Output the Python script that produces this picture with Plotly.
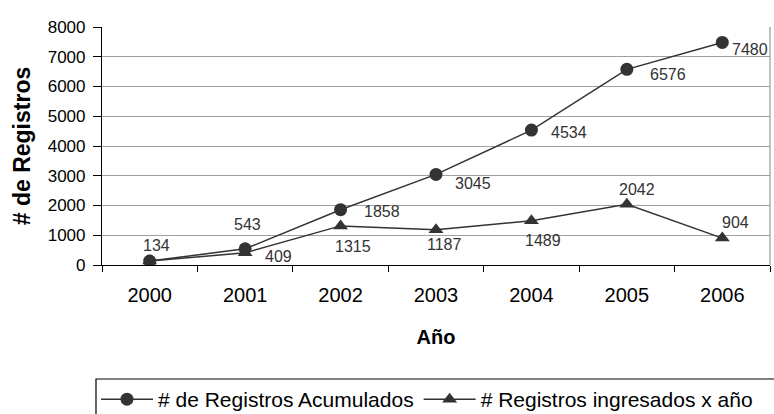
import plotly.graph_objects as go

years = ["2000", "2001", "2002", "2003", "2004", "2005", "2006"]
acumulados = [134, 543, 1858, 3045, 4534, 6576, 7480]
ingresados = [134, 409, 1315, 1187, 1489, 2042, 904]
y_ticks = [0, 1000, 2000, 3000, 4000, 5000, 6000, 7000, 8000]

# label offsets in pixels (dx right, dy down) - styling only
acu_off = [(7, -16), (2, -24), (41, 2), (37, 9), (38, 2), (41, 5), (28, 7)]
ing_off = [None, (33, 4), (12, 21), (8, 15), (12, 20), (10, -15), (13, -16)]

DARK = "#333333"
FONT = "Liberation Sans, Arial, sans-serif"

fig = go.Figure()
fig.add_trace(go.Scatter(
    x=years, y=acumulados, mode="lines+markers",
    name="# de Registros Acumulados",
    line=dict(color=DARK, width=1.5),
    marker=dict(symbol="circle", size=13, color=DARK),
))
fig.add_trace(go.Scatter(
    x=years, y=ingresados, mode="lines+markers",
    name="# Registros ingresados x año",
    line=dict(color=DARK, width=1.5),
    marker=dict(symbol="triangle-up", size=13, color=DARK),
))

annotations = []
for ys, offs in [(acumulados, acu_off), (ingresados, ing_off)]:
    for i, (y, o) in enumerate(zip(ys, offs)):
        if o is None:
            continue
        annotations.append(dict(
            x=i, y=y, xref="x", yref="y", text=str(y), showarrow=False,
            xshift=o[0], yshift=-o[1],
            font=dict(family=FONT, size=16, color=DARK),
        ))

fig.update_layout(
    width=774, height=414,
    margin=dict(l=102, r=4, t=27, b=149, autoexpand=False),
    paper_bgcolor="white", plot_bgcolor="white",
    font=dict(family=FONT, color="black"),
    annotations=annotations,
    showlegend=True,
    legend=dict(
        orientation="h", x=-0.009, y=-0.479, xanchor="left", yanchor="top",
        font=dict(family=FONT, size=21, color="black"),
        bgcolor="rgba(0,0,0,0)", borderwidth=0, itemwidth=52,
        traceorder="normal",
    ),
    shapes=[dict(
        type="rect", xref="paper", yref="paper",
        x0=-0.009, x1=1.03, y0=-0.479, y1=-0.75,
        line=dict(color="black", width=1.2), fillcolor="rgba(0,0,0,0)",
        layer="below",
    )],
)

fig.update_xaxes(
    type="category", tickson="boundaries", range=[-0.5, len(years) - 0.5],
    showline=True, linecolor="black", linewidth=1.2, mirror=False,
    ticks="outside", ticklen=6, tickcolor="black", tickwidth=1,
    showgrid=False, tickangle=0, ticklabelstandoff=12, automargin=False,
    tickfont=dict(family=FONT, size=20, color="black"),
    title=dict(text="<b>Año</b>", font=dict(family=FONT, size=20, color="black"), standoff=24),
)
fig.update_yaxes(
    range=[0, 8000], tickvals=y_ticks, ticktext=[str(v) for v in y_ticks],
    showline=True, linecolor="black", linewidth=1.2,
    ticks="outside", ticklen=8, tickcolor="black", tickwidth=1,
    showgrid=True, gridcolor="#a0a0a0", gridwidth=1.3,
    zeroline=False, ticklabelstandoff=4, automargin=False,
    tickfont=dict(family=FONT, size=17, color="black"),
    title=dict(text="<b># de Registros</b>", font=dict(family=FONT, size=23, color="black"), standoff=10),
)
# right border of plot area
fig.add_shape(type="line", xref="paper", yref="paper", x0=1, x1=1, y0=0, y1=1,
              line=dict(color="#a0a0a0", width=1.3))

fig.write_html("out.html")
